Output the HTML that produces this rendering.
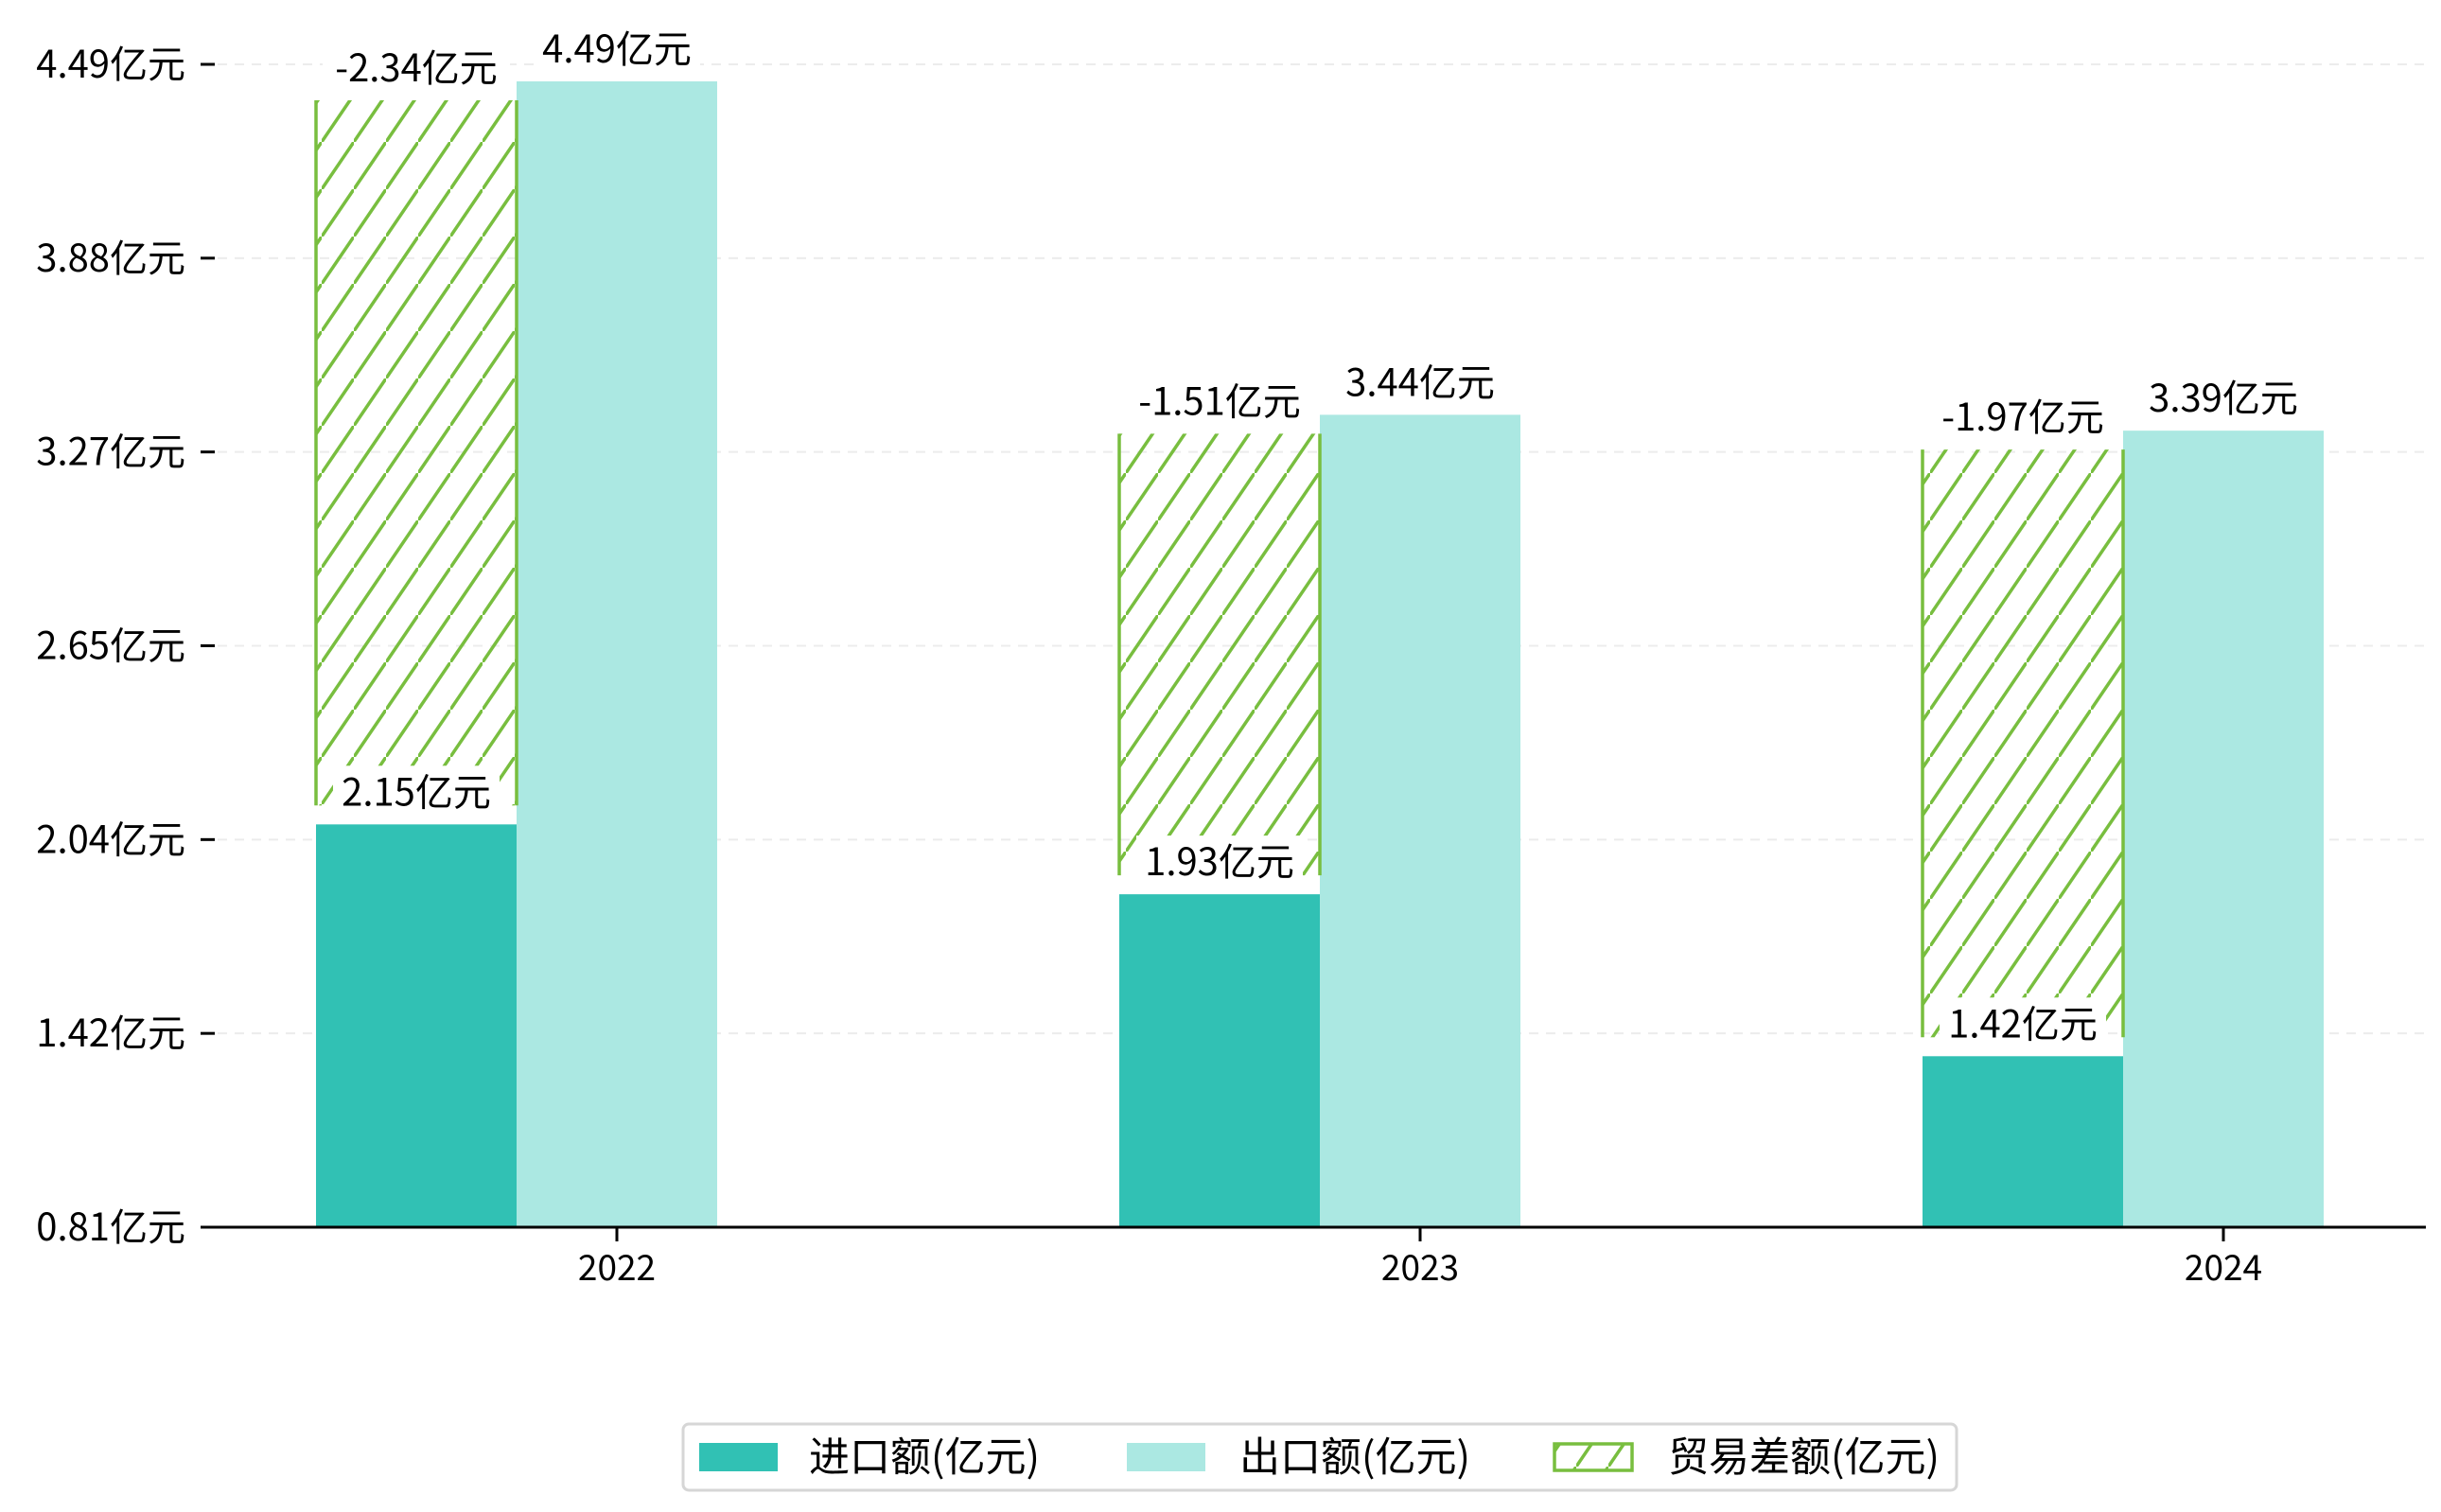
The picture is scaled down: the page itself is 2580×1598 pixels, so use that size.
<!DOCTYPE html>
<html><head><meta charset="utf-8"><style>
html,body{margin:0;padding:0;background:#fff;}
svg{display:block;font-family:"WenQuanYi Zen Hei","Noto Sans CJK SC","Liberation Sans",sans-serif;}
</style></head><body>
<svg id="chart" width="2580" height="1598" viewBox="0 0 2580 1598" xmlns="http://www.w3.org/2000/svg">
<defs>
<pattern id="hatch" patternUnits="userSpaceOnUse" width="34" height="50">
<line x1="-3.4" y1="55" x2="37.4" y2="-5" stroke="#78BE3F" stroke-width="3.5"/>
</pattern>
</defs>
<g id="grid"></g>
<g id="bars"></g>
<g id="axes"></g>
<g id="labels"></g>
<g id="legend">
<rect x="722" y="1505" width="1346" height="70" rx="6" fill="#fff" stroke="#d6d6d6" stroke-width="3"/>
<g>
<rect x="739" y="1525" width="83" height="30" fill="#31C1B4"/>
<text x="855" y="1555" font-size="43">进口额(亿元)</text></g>
<g>
<rect x="1191" y="1525" width="83" height="30" fill="#ABE8E2"/>
<text x="1310" y="1555" font-size="43">出口额(亿元)</text></g>
<g>
<rect x="1643" y="1526" width="82" height="28" fill="url(#hatch)" stroke="#78BE3F" stroke-width="3.5"/>
<text x="1763" y="1555" font-size="43">贸易差额(亿元)</text></g>
</g>
</svg>
<script>
const categories = ["2022","2023","2024"];
const importVals = [2.15,1.93,1.42];
const exportVals = [4.49,3.44,3.39];
const balanceVals = [-2.34,-1.51,-1.97];
const yTickLabels = ["0.81亿元","1.42亿元","2.04亿元","2.65亿元","3.27亿元","3.88亿元","4.49亿元"];

const NS="http://www.w3.org/2000/svg";
const axisY=1297, x0=212, x1=2564;
function y(v){return 86+(4.49-v)*335.6;}
function xc(i){return 652+i*849;}
const bw=212;
function mk(tag,attrs,parent,txt){const e=document.createElementNS(NS,tag);for(const k in attrs)e.setAttribute(k,attrs[k]);if(txt!==undefined)e.textContent=txt;parent.appendChild(e);return e;}
const grid=document.getElementById('grid'),bars=document.getElementById('bars'),axes=document.getElementById('axes'),labels=document.getElementById('labels');
const tickTop=68, tickStep=(axisY-tickTop)/(yTickLabels.length-1);
yTickLabels.forEach((t,i)=>{
  const ty=axisY-i*tickStep;
  if(i>0){const g=mk('line',{x1:x0,x2:x1,y1:ty,y2:ty,stroke:'#ececec','stroke-width':2,'stroke-dasharray':'10,8'},grid);
  
  }
  const tk=mk('line',{x1:212,x2:227,y1:ty,y2:ty,stroke:'#000','stroke-width':3},axes);
  
  
  const tl=mk('text',{x:196,y:ty+14,'font-size':40,'text-anchor':'end'},axes,t);
  
  
});
function label(cx,top,txt){
  const g=mk('g',{},labels);
  
  
  const w=txt.length*22+44;
  mk('rect',{x:cx-w/2,y:top-62,width:w,height:58,fill:'#fff'},g);
  mk('text',{x:cx,y:top-20,'font-size':40,'text-anchor':'middle'},g,txt);
}
categories.forEach((c,i)=>{
  const cx=xc(i), mid=cx-bw/2, xl=mid-bw, xr=mid;
  const bi=mk('rect',{x:xl,y:y(importVals[i]),width:bw,height:axisY-y(importVals[i]),fill:'#31C1B4'},bars);
  
  
  const be=mk('rect',{x:xr,y:y(exportVals[i]),width:bw,height:axisY-y(exportVals[i]),fill:'#ABE8E2'},bars);
  
  
  const top=y(importVals[i]+Math.abs(balanceVals[i]))+20, bot=y(importVals[i])-20;
  const bh=mk('rect',{x:xl,y:top,width:bw,height:bot-top,fill:'url(#hatch)'},bars);
  
  
  const el=mk('path',{d:`M${xl},${top}V${bot}M${xl+bw},${top}V${bot}`,stroke:'#78BE3F','stroke-width':3.5,fill:'none'},bars);
  
  
  label(xl+bw/2,y(importVals[i]),importVals[i].toFixed(2)+'亿元');
  label(xr+bw/2,y(exportVals[i]),exportVals[i].toFixed(2)+'亿元');
  label(xl+bw/2,top,balanceVals[i].toFixed(2)+'亿元');
  const xt=mk('line',{x1:cx,x2:cx,y1:axisY,y2:axisY+15,stroke:'#000','stroke-width':3},axes);
  
  
  const xlb=mk('text',{x:cx,y:1353,'font-size':37,'text-anchor':'middle'},axes,c);
  
  
});
const ax=mk('line',{x1:x0,x2:x1,y1:axisY,y2:axisY,stroke:'#000','stroke-width':3},axes);


</script>
</body></html>
